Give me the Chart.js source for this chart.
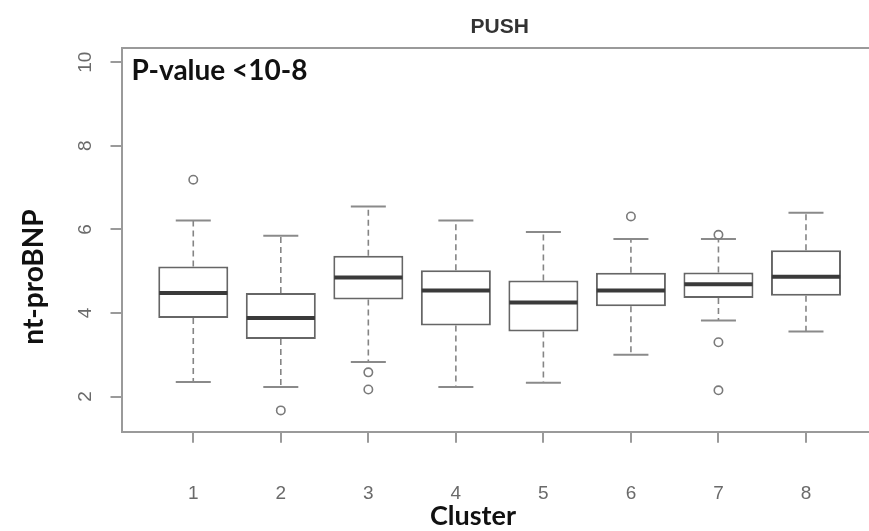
<!DOCTYPE html>
<html>
<head>
<meta charset="utf-8">
<script src="https://cdn.jsdelivr.net/npm/chart.js@4/dist/chart.umd.min.js"></script>
<style>
html,body{margin:0;padding:0;background:#fff;overflow:hidden;}
canvas{display:block;}
</style>
</head>
<body>
<canvas id="c" width="869" height="531"></canvas>
<script>
// ---- data ----
const categories   = [1, 2, 3, 4, 5, 6, 7, 8];
const whiskerLow   = [2.35, 2.23, 2.83, 2.23, 2.33, 3.00, 3.82, 3.56];
const q1           = [3.88, 3.38, 4.32, 3.70, 3.56, 4.16, 4.36, 4.41];
const median       = [4.48, 3.88, 4.85, 4.54, 4.25, 4.54, 4.69, 4.87];
const q3           = [5.11, 4.48, 5.37, 5.02, 4.78, 4.96, 4.97, 5.50];
const whiskerHigh  = [6.21, 5.85, 6.55, 6.21, 5.94, 5.77, 5.77, 6.40];
const outliers     = [[7.19], [1.67], [2.58, 2.17], [], [], [6.31], [5.87, 3.30, 2.15], []];
const yTickValues  = [2, 4, 6, 8, 10];
const chartTitle   = 'PUSH';
const yTitle       = 'nt-proBNP';
const xTitle       = 'Cluster';
const annotation   = 'P-value <10-8';

const boxData = categories.map((c, i) => ({x: c, y: [q1[i], q3[i]]}));
const outlierData = [];
categories.forEach((c, i) => outliers[i].forEach(v => outlierData.push({x: c, y: v})));

const AXIS = '#9a9a9a';
const TICKFONT = '"Liberation Sans Narrow", "Liberation Sans", Arial, sans-serif';
const BOLDFONT = 'Lato, "Open Sans", sans-serif';

const extras = {
  id: 'extras',
  beforeDatasetsDraw(chart) {
    const {ctx, chartArea, scales: {x, y}} = chart;
    ctx.save();
    // top frame line
    ctx.strokeStyle = AXIS; ctx.lineWidth = 2;
    ctx.beginPath(); ctx.moveTo(chartArea.left, chartArea.top); ctx.lineTo(chartArea.right, chartArea.top); ctx.stroke();
    // whiskers
    categories.forEach((c, i) => {
      const px = x.getPixelForValue(c);
      const capL = x.getPixelForValue(c - 0.2), capR = x.getPixelForValue(c + 0.2);
      ctx.strokeStyle = '#858585'; ctx.lineWidth = 1.6; ctx.setLineDash([6, 4]);
      ctx.beginPath();
      ctx.moveTo(px, y.getPixelForValue(q3[i])); ctx.lineTo(px, y.getPixelForValue(whiskerHigh[i]));
      ctx.moveTo(px, y.getPixelForValue(q1[i])); ctx.lineTo(px, y.getPixelForValue(whiskerLow[i]));
      ctx.stroke();
      ctx.setLineDash([]); ctx.lineWidth = 2; ctx.strokeStyle = '#8a8a8a';
      ctx.beginPath();
      ctx.moveTo(capL, y.getPixelForValue(whiskerHigh[i])); ctx.lineTo(capR, y.getPixelForValue(whiskerHigh[i]));
      ctx.moveTo(capL, y.getPixelForValue(whiskerLow[i])); ctx.lineTo(capR, y.getPixelForValue(whiskerLow[i]));
      ctx.stroke();
    });
    ctx.restore();
  },
  afterDatasetsDraw(chart) {
    const {ctx, scales: {x, y}} = chart;
    ctx.save();
    ctx.strokeStyle = '#3a3a3a'; ctx.lineWidth = 4;
    categories.forEach((c, i) => {
      const py = y.getPixelForValue(median[i]);
      ctx.beginPath();
      ctx.moveTo(x.getPixelForValue(c - 0.39), py); ctx.lineTo(x.getPixelForValue(c + 0.39), py);
      ctx.stroke();
    });
    ctx.restore();
  },
  afterDraw(chart) {
    const {ctx, chartArea, scales: {x, y}} = chart;
    ctx.save();
    // rotated y tick labels
    ctx.fillStyle = '#6a6a6a';
    ctx.font = '19px ' + TICKFONT;
    ctx.textAlign = 'center'; ctx.textBaseline = 'middle';
    y.ticks.forEach(t => {
      const py = y.getPixelForValue(t.value);
      ctx.save(); ctx.translate(85.5, py); ctx.rotate(-Math.PI / 2);
      ctx.fillText(String(t.value), 0, 0); ctx.restore();
    });
    // title
    ctx.fillStyle = '#333';
    ctx.font = 'bold 21px "Liberation Sans", Arial, sans-serif';
    ctx.textAlign = 'center'; ctx.textBaseline = 'alphabetic';
    ctx.fillText(chartTitle, x.getPixelForValue(4.5), 33);
    // annotation
    ctx.fillStyle = '#111';
    ctx.font = 'bold 28px ' + BOLDFONT;
    ctx.textAlign = 'left';
    ctx.fillText(annotation, chartArea.left + 10, 80);
    // x title
    ctx.font = 'bold 27px ' + BOLDFONT;
    ctx.textAlign = 'center';
    ctx.fillText(xTitle, 473, 525);
    // y title
    ctx.save(); ctx.translate(43, 277); ctx.rotate(-Math.PI / 2);
    ctx.font = 'bold 28px ' + BOLDFONT;
    ctx.fillText(yTitle, 0, 0); ctx.restore();
    ctx.restore();
  }
};

new Chart(document.getElementById('c'), {
  type: 'bar',
  data: {
    datasets: [
      {
        type: 'bar', data: boxData,
        backgroundColor: '#ffffff', borderColor: '#666666', borderWidth: 2,
        borderSkipped: false, categoryPercentage: 0.8, barPercentage: 1.0, grouped: false, order: 2
      },
      {
        type: 'scatter', data: outlierData,
        pointStyle: 'circle', pointRadius: 4.2, borderWidth: 1.6,
        borderColor: '#7a7a7a', backgroundColor: 'rgba(0,0,0,0)', order: 1
      }
    ]
  },
  options: {
    responsive: false, animation: false, devicePixelRatio: 1,
    layout: {autoPadding: false, padding: {top: 48, left: 0, right: 0, bottom: 0}},
    plugins: {legend: {display: false}, tooltip: {enabled: false}, title: {display: false}},
    scales: {
      x: {
        type: 'linear', min: 0.18, max: 8.72, offset: false,
        afterBuildTicks: s => { s.ticks = categories.map(v => ({value: v})); },
        afterFit: s => { s.height = 99.3; s.paddingLeft = 0; s.paddingRight = 0; },
        grid: {display: true, drawOnChartArea: false, drawTicks: true, tickLength: 11, color: AXIS, lineWidth: 2, offset: false},
        border: {display: true, color: AXIS, width: 2},
        ticks: {color: '#6a6a6a', font: {size: 19, family: TICKFONT}, padding: 40, maxRotation: 0, autoSkip: false}
      },
      y: {
        type: 'linear', min: 1.16, max: 10.34,
        afterBuildTicks: s => { s.ticks = yTickValues.map(v => ({value: v})); },
        afterFit: s => { s.width = 121.5; s.paddingTop = 0; s.paddingBottom = 0; },
        grid: {display: true, drawOnChartArea: false, drawTicks: true, tickLength: 11, color: AXIS, lineWidth: 2},
        border: {display: true, color: AXIS, width: 2},
        ticks: {display: false}
      }
    }
  },
  plugins: [extras]
});
</script>
</body>
</html>
